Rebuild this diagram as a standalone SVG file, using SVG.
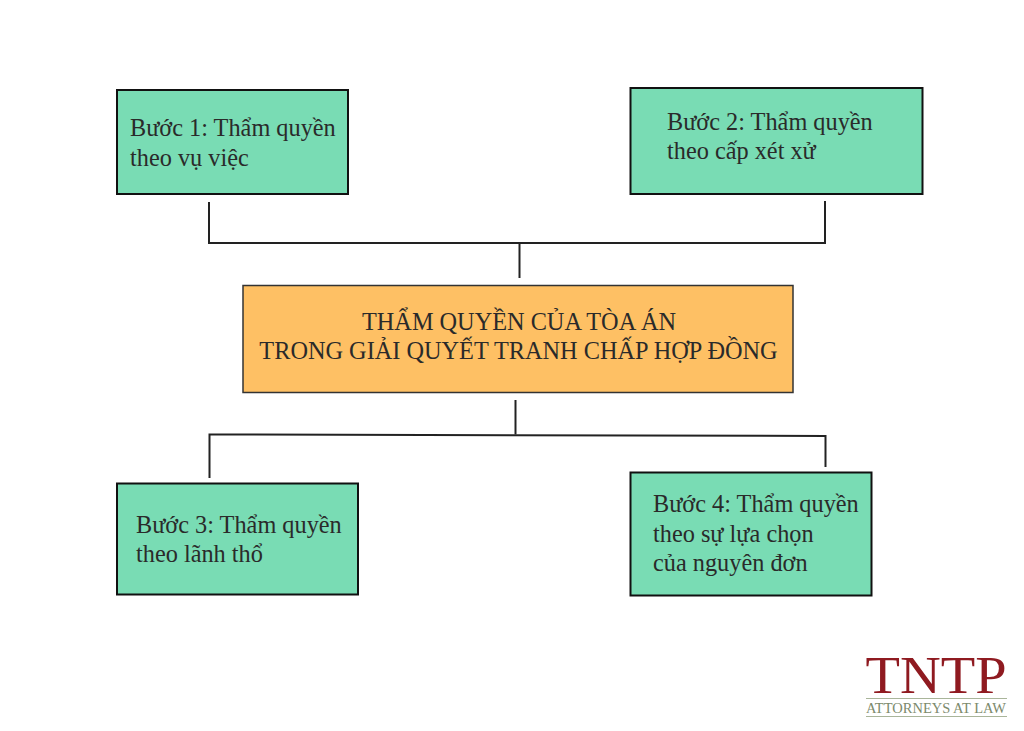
<svg xmlns="http://www.w3.org/2000/svg" width="1024" height="731" viewBox="0 0 1024 731">
<style>
text{font-family:"Liberation Serif","Times New Roman",serif;fill:#2a2a2a}
.t{font-size:24.3px}
.c{font-size:24.3px;text-anchor:middle}
.g{fill:#79dcb4;stroke:#111;stroke-width:2}
.o{fill:#fec064;stroke:#333;stroke-width:1.5}
#connectors path{fill:none;stroke:#222;stroke-width:2}
</style>
<rect width="1024" height="731" fill="#fff"/>
<g id="connectors">
<path d="M209 202V243H825V201"/>
<path d="M519.500 243V278"/>
<path d="M515.500 400V434.500"/>
<path d="M209.500 478V434.500L825.500 436V467"/>
</g>
<g id="node-1"><rect class="g" x="117" y="90" width="231" height="104"/>
<text class="t" x="130" y="136">Bước 1: Thẩm quyền</text><text class="t" x="130" y="166">theo vụ việc</text></g>
<g id="node-2"><rect class="g" x="630.500" y="88" width="292" height="106"/>
<text class="t" x="667" y="130">Bước 2: Thẩm quyền</text><text class="t" x="667" y="159">theo cấp xét xử</text></g>
<g id="node-center"><rect class="o" x="243" y="285.500" width="550" height="107"/>
<text class="c" x="519" y="330">THẨM QUYỀN CỦA TÒA ÁN</text><text class="c" x="518.500" y="359">TRONG GIẢI QUYẾT TRANH CHẤP HỢP ĐỒNG</text></g>
<g id="node-3"><rect class="g" x="117" y="483.500" width="241" height="111"/>
<text class="t" x="136" y="533">Bước 3: Thẩm quyền</text><text class="t" x="136" y="562">theo lãnh thổ</text></g>
<g id="node-4"><rect class="g" x="630.500" y="472.500" width="241" height="123"/>
<text class="t" x="653" y="512">Bước 4: Thẩm quyền</text><text class="t" x="653" y="542">theo sự lựa chọn</text><text class="t" x="653" y="571">của nguyên đơn</text></g>
<g id="logo">
<text x="936" y="693" text-anchor="middle" font-size="53" textLength="141" lengthAdjust="spacingAndGlyphs" style="fill:#8f1a20">TNTP</text>
<rect x="866" y="698" width="141" height="1" fill="#a9b59a"/>
<text x="936" y="713" text-anchor="middle" font-size="15" textLength="140" lengthAdjust="spacingAndGlyphs" style="fill:#7c8a6c">ATTORNEYS AT LAW</text>
<rect x="866" y="716" width="141" height="1" fill="#a9b59a"/>
</g>
</svg>
